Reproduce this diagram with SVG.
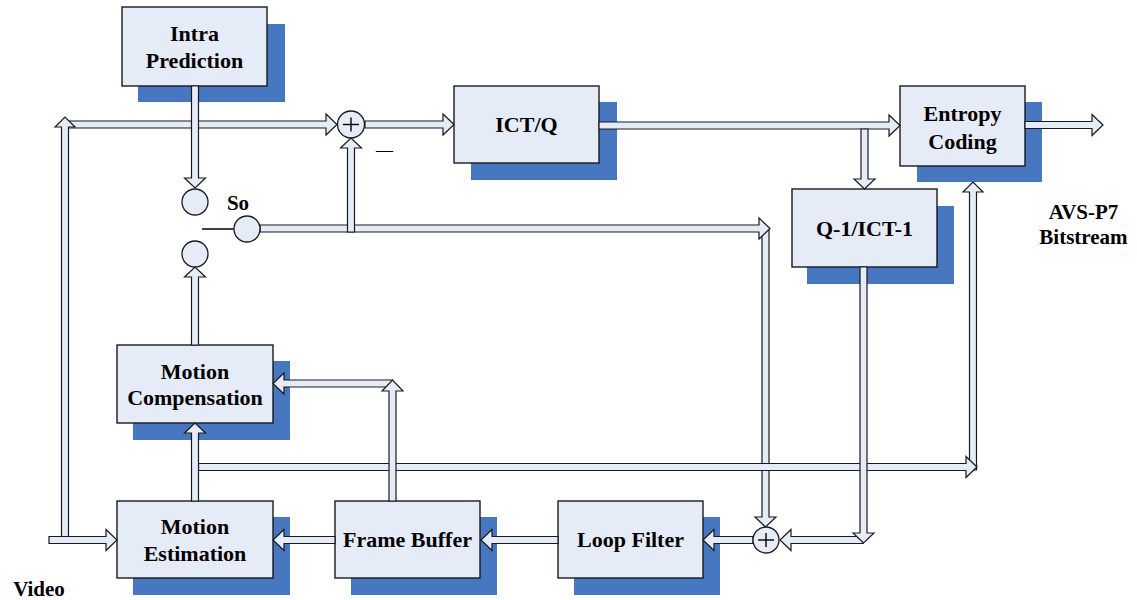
<svg xmlns="http://www.w3.org/2000/svg" width="1137" height="600" viewBox="0 0 1137 600">
<defs>
<style>
.shadow{fill:#4877C1;}
.box{fill:#E6ECF7;stroke:#1a1a1a;stroke-width:1.4;}
.lbl{font-family:"Liberation Serif","Times New Roman",serif;font-weight:bold;font-size:22px;fill:#000;text-anchor:middle;}
.ext{font-family:"Liberation Serif","Times New Roman",serif;font-weight:bold;font-size:21px;fill:#000;text-anchor:middle;}
.arr{fill:#E6ECF7;stroke:#1a1a1a;stroke-width:1.2;stroke-linejoin:miter;}
.circ{fill:#E6ECF7;stroke:#1a1a1a;stroke-width:1.3;}
.sign{stroke:#000;stroke-width:1.4;fill:none;}
</style>
</defs>
<rect width="1137" height="600" fill="#fff"/>

<g id="intra-prediction">
  <rect class="shadow" x="138" y="24" width="147" height="78"/>
  <rect class="box" x="122" y="7" width="145" height="79"/>
  <text class="lbl" x="194.5" y="40.5">Intra</text>
  <text class="lbl" x="194.5" y="67.5">Prediction</text>
</g>

<g id="ict-q">
  <rect class="shadow" x="471" y="102" width="146" height="78"/>
  <rect class="box" x="454" y="86" width="145" height="77"/>
  <text class="lbl" x="526.5" y="132">ICT/Q</text>
</g>

<g id="entropy-coding">
  <rect class="shadow" x="917" y="102" width="125" height="80"/>
  <rect class="box" x="900" y="86" width="125" height="80"/>
  <text class="lbl" x="962.5" y="120.5">Entropy</text>
  <text class="lbl" x="962.5" y="148.5">Coding</text>
</g>

<g id="inverse-q-ict">
  <rect class="shadow" x="807" y="206" width="147" height="78"/>
  <rect class="box" x="792" y="189" width="145" height="78"/>
  <text class="lbl" x="864.5" y="235.5">Q-1/ICT-1</text>
</g>

<g id="motion-compensation">
  <rect class="shadow" x="133" y="361" width="157" height="79"/>
  <rect class="box" x="117" y="345" width="156" height="78"/>
  <text class="lbl" x="195" y="378.5">Motion</text>
  <text class="lbl" x="195" y="404.5">Compensation</text>
</g>

<g id="motion-estimation">
  <rect class="shadow" x="133" y="517" width="157" height="78"/>
  <rect class="box" x="117" y="501" width="156" height="77"/>
  <text class="lbl" x="195" y="533.5">Motion</text>
  <text class="lbl" x="195" y="560.5">Estimation</text>
</g>

<g id="frame-buffer">
  <rect class="shadow" x="351" y="517" width="146" height="78"/>
  <rect class="box" x="335" y="501" width="145" height="77"/>
  <text class="lbl" x="407.5" y="546.5">Frame Buffer</text>
</g>

<g id="loop-filter">
  <rect class="shadow" x="574" y="517" width="146" height="78"/>
  <rect class="box" x="558" y="501" width="145" height="77"/>
  <text class="lbl" x="630.5" y="546.5">Loop Filter</text>
</g>

<g id="connectors">
  <!-- input to subtractor -->
  <polygon class="arr" points="65,121 326,121 326,114 337,124.5 326,135 326,128 65,128"/>
  <polygon class="arr" points="61.5,543 61.5,127 55,127 65,117 75,127 68.5,127 68.5,543"/>
  <polygon class="arr" points="49,536.5 106,536.5 106,529.5 117,540 106,550.5 106,543.5 49,543.5"/>
  <!-- intra down -->
  <polygon class="arr" points="191.5,86 191.5,178 184.5,178 195,188 205.5,178 198.5,178 198.5,86"/>
  <!-- subtractor to ICT/Q -->
  <polygon class="arr" points="365,121 443,121 443,114 454,124.5 443,135 443,128 365,128"/>
  <!-- ICT/Q to entropy -->
  <polygon class="arr" points="599,122 889,122 889,115 900,125.5 889,136 889,129 599,129"/>
  <polygon class="arr" points="861,129 861,179 854,179 864.5,189 875,179 868,179 868,129"/>
  <!-- entropy out -->
  <polygon class="arr" points="1025,121.5 1092,121.5 1092,114.5 1103,125 1092,135.5 1092,128.5 1025,128.5"/>
  <!-- switch output -->
  <polygon class="arr" points="762,228 762,517 755,517 765.5,527 776,517 769,517 769,228"/>
  <polygon class="arr" points="260,225 759,225 759,218 770,228.5 759,239 759,232 260,232"/>
  <polygon class="arr" points="347.5,232 347.5,148 340.5,148 351,138 361.5,148 354.5,148 354.5,232"/>
  <!-- long horizontal to entropy -->
  <polygon class="arr" points="969.5,470 969.5,192 963,192 973,182 983,192 976.5,192 976.5,470"/>
  <polygon class="arr" points="198.5,463.5 966,463.5 966,456.5 977,467 966,477.5 966,470.5 198.5,470.5"/>
  <!-- MC up to switch -->
  <polygon class="arr" points="191.5,345 191.5,277 184.5,277 195,267 205.5,277 198.5,277 198.5,345"/>
  <!-- ME up to MC -->
  <polygon class="arr" points="191.5,501 191.5,433 184.5,433 195,423 205.5,433 198.5,433 198.5,501"/>
  <!-- FB to MC -->
  <polygon class="arr" points="392.5,380 284,380 284,373 273,383.5 284,394 284,387 392.5,387"/>
  <polygon class="arr" points="389,501 389,391 382,391 392.5,380 403,391 396,391 396,501"/>
  <!-- bottom chain -->
  <polygon class="arr" points="335,536.5 284,536.5 284,529.5 273,540 284,550.5 284,543.5 335,543.5"/>
  <polygon class="arr" points="558,536.5 492,536.5 492,529.5 481,540 492,550.5 492,543.5 558,543.5"/>
  <polygon class="arr" points="753,536.5 714,536.5 714,529.5 703,540 714,550.5 714,543.5 753,543.5"/>
  <polygon class="arr" points="863,536.5 791,536.5 791,529.5 780,540 791,550.5 791,543.5 863,543.5"/>
  <polygon class="arr" points="860,267 860,533 853,533 863.5,543 874,533 867,533 867,267"/>
  <!-- switch lever -->
  <line x1="202" y1="229" x2="234" y2="229" stroke="#111" stroke-width="1.6"/>
</g>

<g id="subtractor">
  <circle class="circ" cx="351" cy="124.5" r="13.5"/>
  <line class="sign" x1="343" y1="124.5" x2="359" y2="124.5"/>
  <line class="sign" x1="351" y1="117.5" x2="351" y2="131.5"/>
  <text x="384.5" y="155" font-family="Liberation Serif, serif" font-size="17" text-anchor="middle" fill="#000">—</text>
</g>

<g id="adder">
  <circle class="circ" cx="766" cy="540" r="13"/>
  <line class="sign" x1="758" y1="540" x2="774" y2="540"/>
  <line class="sign" x1="766" y1="533" x2="766" y2="547"/>
</g>

<g id="switch">
  <circle class="circ" cx="195" cy="202" r="13"/>
  <circle class="circ" cx="195" cy="254" r="13"/>
  <circle class="circ" cx="247" cy="229" r="13"/>
  <text class="ext" x="238" y="210">So</text>
</g>

<g id="labels">
  <text class="ext" x="1083.5" y="218.5">AVS-P7</text>
  <text class="ext" x="1083.5" y="244">Bitstream</text>
  <text class="ext" x="39" y="596">Video</text>
</g>
</svg>
